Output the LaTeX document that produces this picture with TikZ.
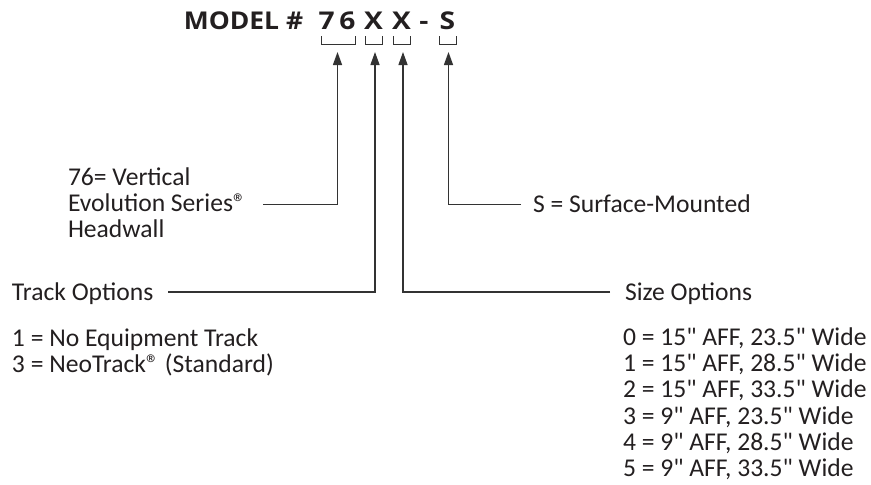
\documentclass[tikz,border=0pt]{standalone}
\usepackage{fontspec}
\setmainfont{Carlito}[Ligatures=TeXOff]
\newfontfamily\titlefont{Open Sans}
\usetikzlibrary{arrows.meta}
\definecolor{textgray}{HTML}{231F20}
\definecolor{linegray}{HTML}{333333}
\begin{document}
\begin{tikzpicture}[x=1pt,y=-1pt,
  lbl/.style={anchor=base west, inner sep=0pt, outer sep=0pt, text=textgray, font=\fontsize{25.6}{26}\selectfont},
  ttl/.style={anchor=base, inner sep=0pt, outer sep=0pt, text=textgray, font=\titlefont\bfseries\fontsize{24.5}{24.5}\selectfont},
  brk/.style={draw=linegray, line width=1pt},
  lead/.style={draw=linegray, line width=1.3pt, -{Triangle[length=13pt,width=9pt]}}
]
\useasboundingbox (0,0) rectangle (871,485);
% title
\node[ttl] (tmodel) at (243.5,29) {\scalebox{1.08}[1]{MODEL \#}};
\node[ttl] (t76) at (337,29) {\scalebox{1.15}[1]{7\,6}};
\node[ttl] (tx1) at (373.5,29) {\scalebox{1.15}[1]{X}};
\node[ttl] (tx2) at (401.5,29) {\scalebox{1.15}[1]{X}};
\node[ttl] (tdash) at (424,29) {\scalebox{1.15}[1]{-}};
\node[ttl] (ts) at (447.5,29) {\scalebox{1.15}[1]{S}};
% brackets
\draw[brk] (321,36) -- (321,44) -- (355,44) -- (355,36);
\draw[brk] (365,36) -- (365,44) -- (382,44) -- (382,36);
\draw[brk] (393,36) -- (393,44) -- (410,44) -- (410,36);
\draw[brk] (439,36) -- (439,44) -- (456,44) -- (456,36);
% arrow tips
\coordinate (a76) at (337.5,52);
\coordinate (ax1) at (375,52);
\coordinate (ax2) at (403,52);
\coordinate (as) at (448.5,52);
% free ends
\coordinate (e76) at (263,204.5);
\coordinate (ex1) at (168,292);
\coordinate (ex2) at (610,292);
\coordinate (es) at (521,204.5);
\draw[lead] (e76) -| (a76);
\draw[lead] (ex1) -| (ax1);
\draw[lead] (ex2) -| (ax2);
\draw[lead] (es) -| (as);
% labels
\node[lbl] (l76a) at (68,185) {76= Vertical};
\node[lbl] (l76b) at (68,211) {Evolution Series®};
\node[lbl] (l76c) at (68,237) {Headwall};
\node[lbl] (ls) at (533,212) {S = Surface-Mounted};
\node[lbl] (ltrack) at (12,300) {Track Options};
\node[lbl] (ltr1) at (12,346) {1 = No Equipment Track};
\node[lbl] (ltr3) at (12,372) {3 = NeoTrack® (Standard)};
\node[lbl] (lsize) at (625,300) {Size Options};
\node[lbl] (ls0) at (623,345) {0 = 15" AFF, 23.5" Wide};
\node[lbl] (ls1) at (623,371) {1 = 15" AFF, 28.5" Wide};
\node[lbl] (ls2) at (623,397) {2 = 15" AFF, 33.5" Wide};
\node[lbl] (ls3) at (623,424) {3 = 9" AFF, 23.5" Wide};
\node[lbl] (ls4) at (623,450) {4 = 9" AFF, 28.5" Wide};
\node[lbl] (ls5) at (623,476) {5 = 9" AFF, 33.5" Wide};
\end{tikzpicture}
\end{document}
